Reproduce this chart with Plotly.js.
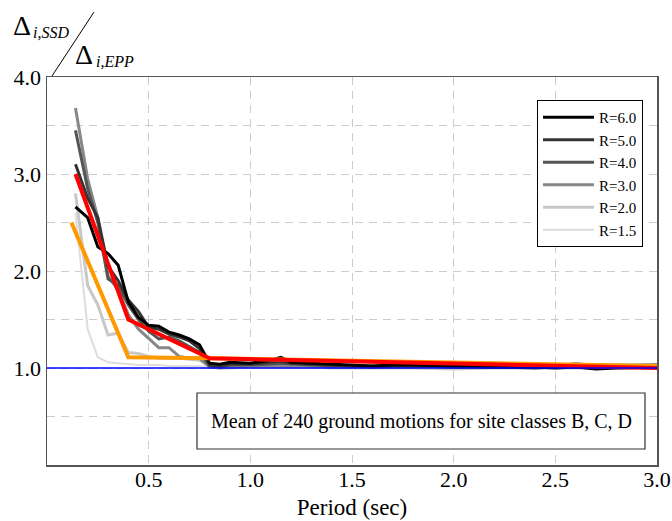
<!DOCTYPE html>
<html>
<head>
<meta charset="utf-8">
<script src="https://cdn.plot.ly/plotly-3.0.1.min.js"></script>
<style>html,body{margin:0;padding:0;background:#fff;}#chart{width:672px;height:521px;}</style>
</head>
<body>
<div id="chart"></div>
<script>
// Periods (sec) shared by the R curves
const period = [0.14, 0.2, 0.25, 0.3, 0.35, 0.4, 0.45, 0.5, 0.55, 0.6, 0.65, 0.7, 0.75, 0.8, 0.85, 0.9, 1.0, 1.1, 1.15, 1.2, 1.3, 1.4, 1.5, 1.6, 1.7, 1.8, 2.0, 2.2, 2.4, 2.5, 2.6, 2.7, 2.8, 3.0];
const r60 = [2.66, 2.55, 2.25, 2.18, 2.06, 1.68, 1.52, 1.44, 1.43, 1.37, 1.34, 1.30, 1.24, 1.05, 1.04, 1.06, 1.05, 1.08, 1.11, 1.06, 1.05, 1.04, 1.03, 1.02, 1.03, 1.03, 1.02, 1.01, 1.01, 1.00, 1.01, 0.99, 1.00, 1.01];
const r50 = [3.10, 2.75, 2.55, 2.05, 1.90, 1.70, 1.58, 1.42, 1.40, 1.35, 1.32, 1.28, 1.20, 1.03, 1.02, 1.04, 1.04, 1.06, 1.07, 1.05, 1.04, 1.03, 1.02, 1.01, 1.02, 1.02, 1.01, 1.01, 1.00, 1.01, 1.02, 1.00, 1.01, 1.01];
const r40 = [3.45, 2.85, 2.50, 1.92, 1.85, 1.65, 1.50, 1.38, 1.30, 1.32, 1.28, 1.22, 1.16, 1.02, 1.01, 1.03, 1.03, 1.04, 1.05, 1.04, 1.03, 1.02, 1.02, 1.02, 1.02, 1.02, 1.01, 1.01, 1.01, 1.02, 1.04, 1.02, 1.02, 1.03];
const r30 = [3.68, 2.95, 2.55, 1.95, 1.80, 1.55, 1.40, 1.30, 1.21, 1.21, 1.12, 1.10, 1.10, 1.01, 1.00, 1.01, 1.02, 1.02, 1.02, 1.02, 1.02, 1.01, 1.01, 1.01, 1.01, 1.01, 1.02, 1.02, 1.02, 1.03, 1.04, 1.03, 1.03, 1.03];
const r20 = [2.80, 1.85, 1.65, 1.34, 1.36, 1.16, 1.15, 1.12, 1.10, 1.10, 1.10, 1.09, 1.08, 1.02, 1.00, 1.00, 1.01, 1.01, 1.01, 1.01, 1.01, 1.00, 1.00, 1.00, 1.00, 1.00, 0.99, 1.00, 1.00, 1.00, 1.00, 1.00, 1.00, 1.00];
const r15 = [2.60, 1.40, 1.11, 1.06, 1.05, 1.04, 1.03, 1.03, 1.03, 1.02, 1.02, 1.02, 1.02, 1.01, 1.00, 1.00, 1.00, 1.00, 1.00, 1.00, 1.00, 1.00, 1.00, 1.00, 1.00, 1.00, 1.00, 1.00, 1.00, 1.00, 1.00, 1.00, 1.00, 1.00];
// Simplified (bilinear) fits
const fitRedX = [0.14, 0.4, 0.8, 3.0];
const fitRedY = [3.0, 1.5, 1.1, 1.0];
const fitOrangeX = [0.12, 0.4, 0.8, 3.0];
const fitOrangeY = [2.5, 1.11, 1.10, 1.02];
const refX = [0, 3];
const refY = [1, 1];
const seriesNames = ['R=6.0', 'R=5.0', 'R=4.0', 'R=3.0', 'R=2.0', 'R=1.5'];
const yTickVals = [0.5, 1, 1.5, 2, 2.5, 3, 3.5, 4];
const yTickText = ['', '1.0', '', '2.0', '', '3.0', '', '4.0'];
const xTickVals = [0.5, 1.0, 1.5, 2.0, 2.5, 3.0];
const xTickText = ['0.5', '1.0', '1.5', '2.0', '2.5', '3.0'];
const noteText = 'Mean of 240 ground motions for site classes B, C, D';

const seriesY = [r60, r50, r40, r30, r20, r15];
const colors = ['#000000', '#333333', '#555555', '#888888', '#c8c8c8', '#dddddd'];
const widths = [3, 3, 3, 3, 3, 2];
const FONT = 'Liberation Serif';

const traces = [];
for (let i = seriesY.length - 1; i >= 0; i--) {
  traces.push({x: period, y: seriesY[i], type: 'scatter', mode: 'lines', name: seriesNames[i],
    line: {color: colors[i], width: widths[i]}, legendrank: i + 1});
}
traces.push({x: fitOrangeX, y: fitOrangeY, mode: 'lines', showlegend: false, line: {color: '#ff9900', width: 4}});
traces.push({x: fitRedX, y: fitRedY, mode: 'lines', showlegend: false, line: {color: '#ff0000', width: 4}});
traces.push({x: refX, y: refY, mode: 'lines', showlegend: false, line: {color: '#0000ff', width: 1.5}});

const L = 47, R = 15, T = 77, B = 56;
const pw = 672 - L - R, ph = 521 - T - B;
const px = v => (v - L) / pw;
const py = v => (521 - B - v) / ph;

const layout = {
  width: 672, height: 521,
  margin: {l: L, r: R, t: T, b: B},
  paper_bgcolor: '#fff', plot_bgcolor: '#fff',
  font: {family: FONT, size: 22, color: '#000'},
  showlegend: true,
  legend: {x: px(537), y: py(100), xanchor: 'left', yanchor: 'top', bgcolor: '#fff',
    bordercolor: '#000', borderwidth: 1, font: {family: FONT, size: 15, color: '#000'},
    tracegroupgap: 0, itemwidth: 51, traceorder: 'normal'},
  xaxis: {range: [0, 3], tickvals: xTickVals, ticktext: xTickText, ticks: '',
    ticklabelstandoff: -6,
    showgrid: true, gridcolor: '#cccccc', gridwidth: 1, griddash: '8px,6px',
    showline: true, linecolor: '#555', linewidth: 1.5, mirror: true, zeroline: false,
    title: {text: 'Period (sec)', font: {family: FONT, size: 23}, standoff: 8},
    tickfont: {family: FONT, size: 22}},
  yaxis: {range: [0, 4], tickvals: yTickVals, ticktext: yTickText, ticks: '',
    showgrid: true, gridcolor: '#cccccc', gridwidth: 1, griddash: '8px,6px',
    showline: true, linecolor: '#555', linewidth: 1.5, mirror: true, zeroline: false,
    tickfont: {family: FONT, size: 22}},
  shapes: [
    {type: 'line', xref: 'paper', yref: 'paper', x0: px(52), y0: py(76), x1: px(94), y1: py(12), line: {color: '#000', width: 1}},
    {type: 'rect', xref: 'paper', yref: 'paper', x0: px(197), y0: py(393), x1: px(645), y1: py(449), line: {color: '#333', width: 1.2}, fillcolor: '#fff', layer: 'above'}
  ],
  annotations: [
    {xref: 'paper', yref: 'paper', x: px(11), y: py(25), xanchor: 'left', yanchor: 'middle', showarrow: false,
      text: 'Δ', font: {family: FONT, size: 28}},
    {xref: 'paper', yref: 'paper', x: px(31), y: py(33), xanchor: 'left', yanchor: 'middle', showarrow: false,
      text: '<i>i,SSD</i>', font: {family: FONT, size: 16}},
    {xref: 'paper', yref: 'paper', x: px(73), y: py(55), xanchor: 'left', yanchor: 'middle', showarrow: false,
      text: 'Δ', font: {family: FONT, size: 28}},
    {xref: 'paper', yref: 'paper', x: px(94), y: py(62), xanchor: 'left', yanchor: 'middle', showarrow: false,
      text: '<i>i,EPP</i>', font: {family: FONT, size: 16}},
    {xref: 'paper', yref: 'paper', x: px(421), y: py(421), xanchor: 'center', yanchor: 'middle', showarrow: false,
      text: noteText, font: {family: FONT, size: 20}}
  ]
};

Plotly.newPlot('chart', traces, layout, {displayModeBar: false, staticPlot: true});
</script>
</body>
</html>
